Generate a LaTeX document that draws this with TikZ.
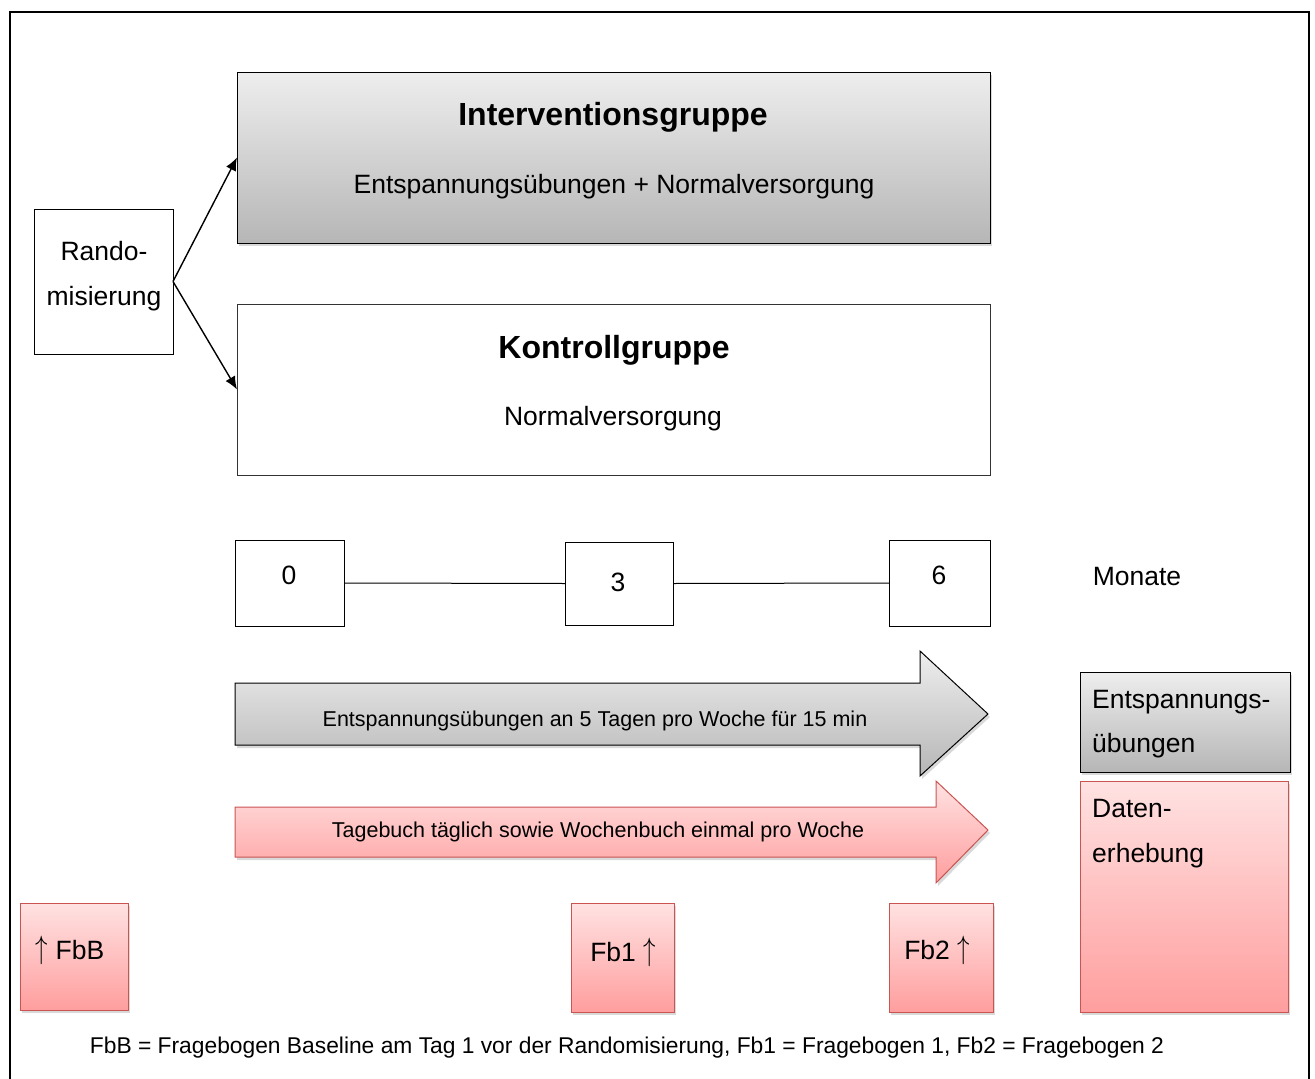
\documentclass[tikz,border=0pt]{standalone}
\usepackage{fontspec}
\usepackage{graphicx}
\setmainfont{Liberation Sans}
\usetikzlibrary{shadows,arrows.meta}
\definecolor{grayA}{RGB}{238,238,238}
\definecolor{grayB}{RGB}{182,182,182}
\definecolor{pinkA}{RGB}{255,226,226}
\definecolor{pinkB}{RGB}{255,158,158}
\definecolor{pinkline}{RGB}{200,85,82}
\newcommand{\fsz}[2]{\fontsize{#1}{#2}\selectfont}
\newcommand{\upar}{\raisebox{1pt}{\scalebox{1}[1.3]{$\uparrow$}}}
\begin{document}
\begin{tikzpicture}[x=1pt,y=-1pt,
  box/.style={draw, line width=1pt, inner sep=0pt, outer sep=0pt},
  shad/.style={drop shadow={opacity=0.3, shadow xshift=2pt, shadow yshift=-3pt}},
  grayfill/.style={top color=grayA, bottom color=grayB},
  pinkfill/.style={top color=pinkA, bottom color=pinkB, draw=pinkline},
  txt/.style={inner sep=0pt, font=\fsz{26.5}{31}},
  small/.style={inner sep=0pt, font=\fsz{21.5}{25}},
  title/.style={inner sep=0pt, font=\bfseries\fsz{32}{38}},
  conn/.style={line width=1.4pt, -{Latex[length=13pt,width=11pt]}}
]
\useasboundingbox (0,0) rectangle (1315,1079);
\draw[line width=1.5pt] (10,1085) -- (10,12) -- (1309,12) -- (1309,1085);

% Randomisierung
\node[box, minimum width=139pt, minimum height=145pt] (rando) at (103.5,281.5) {};
\node[inner sep=0pt, font=\fsz{26.5}{45}, align=center] (randotxt) at (104,276) {Rando-\\misierung};

% Groups
\node[box, shad, grayfill, minimum width=753pt, minimum height=171pt] (inter) at (613.5,157.5) {};
\node[title] (intertitle) at (613,117) {Interventionsgruppe};
\node[txt] (intersub) at (614,187) {Entspannungsübungen + Normalversorgung};

\node[box, draw=black!80, line width=0.8pt, minimum width=753pt, minimum height=171pt] (kontr) at (613.5,389.5) {};
\node[title] (kontrtitle) at (614,350) {Kontrollgruppe};
\node[txt] (kontrsub) at (613,419) {Normalversorgung};

\draw[conn] (rando.east) -- (inter.west);
\draw[conn] (rando.east) -- (kontr.west);

% Timeline
\node[box, minimum width=109pt, minimum height=86pt] (t0) at (289.5,583) {};
\node[box, minimum width=108pt, minimum height=83pt] (t3) at (619,583.5) {};
\node[box, minimum width=101pt, minimum height=86pt] (t6) at (939.5,583) {};
\node[txt] (t0txt) at (289,575) {0};
\node[txt] (t3txt) at (618,582) {3};
\node[txt] (t6txt) at (939,575) {6};
\draw[line width=1pt] (t0.east) -- (t3.west);
\draw[line width=1pt] (t3.east) -- (t6.west);
\node[txt] (monate) at (1137,577) {Monate};

% Block arrows
\path[draw=black, line width=1pt, grayfill, shad]
  (235,683) -- (920,683) -- (920,651) -- (988,714) -- (920,776) -- (920,745) -- (235,745) -- cycle;
\node[small] (arrowA) at (595,721) {Entspannungsübungen an 5 Tagen pro Woche für 15 min};

\path[line width=1pt, pinkfill, shad]
  (235,807) -- (936,807) -- (936,781) -- (988,830) -- (936,883) -- (936,857) -- (235,857) -- cycle;
\node[small] (arrowB) at (598,832) {Tagebuch täglich sowie Wochenbuch einmal pro Woche};

% Legend boxes right
\node[box, shad, grayfill, minimum width=210pt, minimum height=100pt] (legE) at (1185,722) {};
\node[inner sep=0pt, font=\fsz{26.5}{44}, align=left, anchor=north west] (legEtxt) at (1092,690.5) {Entspannungs-\\übungen};
\node[box, shad, pinkfill, minimum width=208pt, minimum height=231pt] (legD) at (1184,896.5) {};
\node[inner sep=0pt, font=\fsz{26.5}{45}, align=left, anchor=north west] (legDtxt) at (1092,799) {Daten-\\erhebung};

% Questionnaire boxes
\node[box, shad, pinkfill, minimum width=108pt, minimum height=107pt] (fbb) at (74,956.5) {};
\node[box, shad, pinkfill, minimum width=103pt, minimum height=109pt] (fb1) at (622.5,957.5) {};
\node[box, shad, pinkfill, minimum width=104pt, minimum height=109pt] (fb2) at (941,957.5) {};
\node[txt] (fbbtxt) at (70,950) {\upar{} FbB};
\node[txt] (fb1txt) at (623,952) {Fb1 \upar};
\node[txt] (fb2txt) at (937,950) {Fb2 \upar};

\node[inner sep=0pt, font=\fsz{22.8}{27}] (legend) at (627,1048) {FbB = Fragebogen Baseline am Tag 1 vor der Randomisierung, Fb1 = Fragebogen 1, Fb2 = Fragebogen 2};
\end{tikzpicture}
\end{document}
